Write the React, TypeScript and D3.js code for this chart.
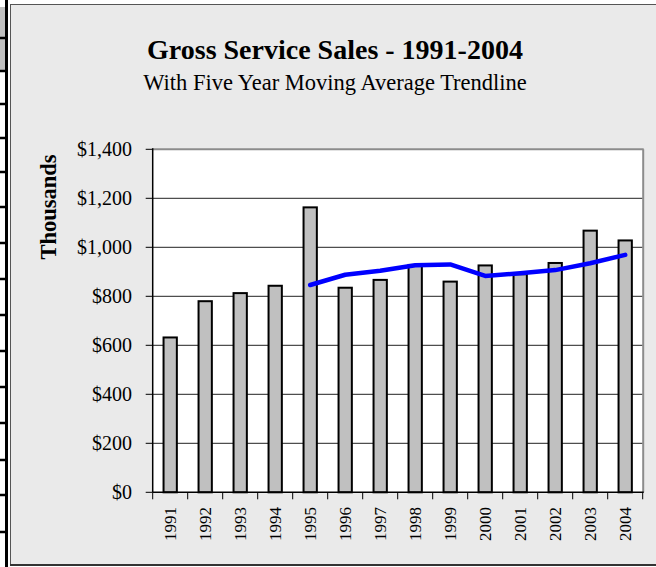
import React from "react";
import * as d3 from "d3";

const years = ["1991","1992","1993","1994","1995","1996","1997","1998","1999","2000","2001","2002","2003","2004"];
const sales = [632, 780, 813, 843, 1163, 835, 867, 928, 860, 926, 890, 936, 1068, 1028];
const maYears = ["1995","1996","1997","1998","1999","2000","2001","2002","2003","2004"];
const movingAvg = [846, 888, 904, 927, 930, 883, 894, 907, 935, 969];
const yTicks = [0, 200, 400, 600, 800, 1000, 1200, 1400];
const stripLines = [38, 71, 104, 138, 172, 207, 243, 279, 315, 351, 387, 423, 460, 495, 532];

const W = 656, H = 567;
const FONT = "'Liberation Serif', 'Times New Roman', serif";

export default function App() {
  const left = 152.7, right = 642.7, top = 149.3, bottom = 492.3;
  const x = d3.scaleBand<string>().domain(years).range([left, right]).paddingInner(0.62).paddingOuter(0.31);
  const y = d3.scaleLinear().domain([0, 1400]).range([bottom, top]);
  const step = (right - left) / years.length;
  const line = d3.line<number>()
    .x((_, i) => (x(maYears[i]) as number) + x.bandwidth() / 2)
    .y((d) => y(d));
  const fmt = (v: number) => "$" + d3.format(",")(v);

  return (
    <div style={{ position: "fixed", left: 0, top: 0 }}>
      <svg width={W} height={H} style={{ display: "block", background: "#fff" }}>
        {/* spreadsheet strip on the left */}
        <rect x={0} y={7} width={5} height={30} fill="#c0c0c0" />
        <rect x={0} y={39} width={5} height={31} fill="#c0c0c0" />
        {stripLines.map((ly) => (
          <line key={ly} x1={0} x2={7} y1={ly} y2={ly} stroke="#000" strokeWidth={2.5} />
        ))}
        <rect x={5} y={0} width={3} height={H} fill="#000" />

        {/* chart area */}
        <rect x={10.5} y={4.5} width={W} height={560} fill="#eaeaea" stroke="#555" strokeWidth={1} />
        <line x1={10} x2={W} y1={565} y2={565} stroke="#333" strokeWidth={2} />

        {/* plot area */}
        <rect x={left} y={top} width={right - left} height={bottom - top} fill="#fff" />
        {yTicks.filter((t) => t > 0 && t < 1400).map((t) => (
          <line key={t} x1={left} x2={right} y1={y(t)} y2={y(t)} stroke="#222" strokeWidth={1} />
        ))}
        <line x1={left} x2={right + 1} y1={top} y2={top} stroke="#8c8c8c" strokeWidth={2} />
        <line x1={right + 0.5} x2={right + 0.5} y1={top} y2={bottom} stroke="#8c8c8c" strokeWidth={2} />

        {/* bars */}
        {sales.map((v, i) => (
          <rect key={years[i]} x={x(years[i])} y={y(v)} width={x.bandwidth()} height={bottom - y(v)}
            fill="#c0c0c0" stroke="#000" strokeWidth={2} />
        ))}

        {/* axes */}
        <line x1={left} x2={left} y1={top - 1} y2={bottom} stroke="#000" strokeWidth={1.5} />
        <line x1={left} x2={right + 1} y1={bottom} y2={bottom} stroke="#000" strokeWidth={1.5} />
        {yTicks.map((t) => (
          <g key={t}>
            <line x1={left - 7} x2={left} y1={y(t)} y2={y(t)} stroke="#000" strokeWidth={1} />
            <text x={132} y={y(t)} dy="0.35em" textAnchor="end" fontFamily={FONT} fontSize={20} fill="#000">
              {fmt(t)}
            </text>
          </g>
        ))}
        {d3.range(years.length + 1).map((i) => (
          <line key={i} x1={left + i * step} x2={left + i * step} y1={bottom} y2={bottom + 7} stroke="#000" strokeWidth={1} />
        ))}
        {years.map((yr) => {
          const cx = (x(yr) as number) + x.bandwidth() / 2;
          return (
            <text key={yr} transform={`translate(${cx},${507}) rotate(-90)`} textAnchor="end" dy="0.35em"
              fontFamily={FONT} fontSize={17} fill="#000">
              {yr}
            </text>
          );
        })}

        {/* moving average line */}
        <path d={line(movingAvg) || ""} fill="none" stroke="#0000ff" strokeWidth={4.5} strokeLinecap="round" strokeLinejoin="round" />

        {/* titles */}
        <text x={335} y={59} textAnchor="middle" fontFamily={FONT} fontSize={28} fontWeight="bold" fill="#000">
          Gross Service Sales - 1991-2004
        </text>
        <text x={335} y={90} textAnchor="middle" fontFamily={FONT} fontSize={22.5} fill="#000">
          With Five Year Moving Average Trendline
        </text>
        <text transform={`translate(56,207) rotate(-90)`} textAnchor="middle" fontFamily={FONT} fontSize={22.5}
          fontWeight="bold" fill="#000">
          Thousands
        </text>
      </svg>
    </div>
  );
}
